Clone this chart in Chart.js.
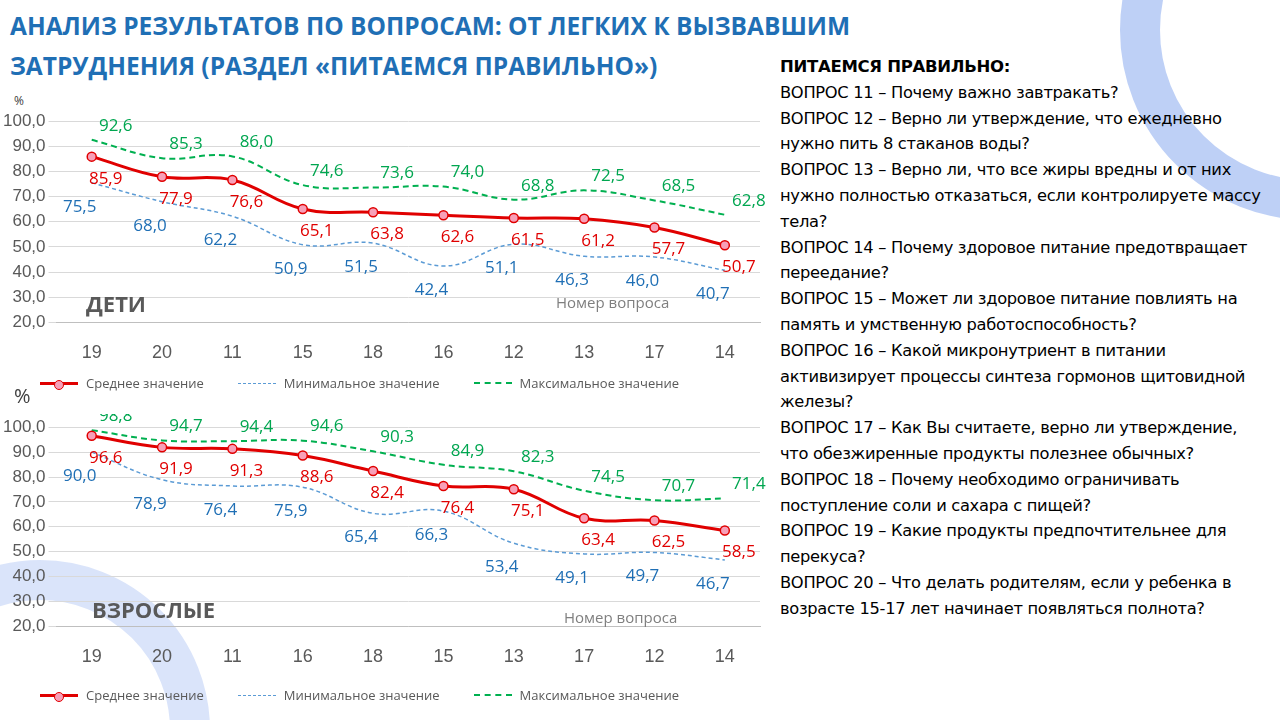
<!DOCTYPE html>
<html><head><meta charset="utf-8">
<script src="https://cdn.jsdelivr.net/npm/chart.js@4"></script>
<style>
body{margin:0;width:1280px;height:720px;overflow:hidden;background:#fff;font-family:"Open Sans",Arial,sans-serif;position:relative}
#title{position:absolute;left:10px;top:6px;color:#1f6fb5;font-weight:bold;font-size:24.5px;line-height:40px}
#notes{position:absolute;left:780px;top:54px;width:485px;font-size:16.3px;line-height:25.8px;color:#000;font-family:"DejaVu Sans",Arial;letter-spacing:-0.3px}
#notes b{font-size:16.5px}
.box{position:absolute;left:0;width:770px}
.tag{position:absolute;font-weight:bold;font-size:22px;color:#595959}
.ax{position:absolute;font-size:15px;color:#7f7f7f}
.pc{position:absolute;font-size:12px;color:#404040}
.arc{position:absolute;border-radius:50%;border:40px solid rgba(70,120,230,0.35)}
.leg{position:absolute;left:40px;width:700px;display:flex;gap:34px;font-size:13px;color:#595959;align-items:center}
.leg span{display:inline-flex;align-items:center;gap:8px}
.ln{display:inline-block;width:38px;height:0;position:relative}
.dot{position:absolute;left:14px;top:-5px;width:8px;height:8px;border-radius:50%;background:#f7a0b8;border:1.5px solid #e00000}
</style></head><body>
<div class="arc" style="left:1120px;top:-160px;width:300px;height:300px"></div>
<div class="arc" style="left:-130px;top:560px;width:260px;height:260px;border-color:rgba(70,120,230,0.2)"></div>
<div id="title">АНАЛИЗ РЕЗУЛЬТАТОВ ПО ВОПРОСАМ: ОТ ЛЕГКИХ К ВЫЗВАВШИМ<br>ЗАТРУДНЕНИЯ (РАЗДЕЛ «ПИТАЕМСЯ ПРАВИЛЬНО»)</div>
<div id="notes"><b>ПИТАЕМСЯ ПРАВИЛЬНО:</b><br>
ВОПРОС 11 – Почему важно завтракать?<br>
ВОПРОС 12 – Верно ли утверждение, что ежедневно нужно пить 8 стаканов воды?<br>
ВОПРОС 13 – Верно ли, что все жиры вредны и от них нужно полностью отказаться, если контролируете массу тела?<br>
ВОПРОС 14 – Почему здоровое питание предотвращает переедание?<br>
ВОПРОС 15 – Может ли здоровое питание повлиять на память и умственную работоспособность?<br>
ВОПРОС 16 – Какой микронутриент в питании активизирует процессы синтеза гормонов щитовидной железы?<br>
ВОПРОС 17 – Как Вы считаете, верно ли утверждение, что обезжиренные продукты полезнее обычных?<br>
ВОПРОС 18 – Почему необходимо ограничивать поступление соли и сахара с пищей?<br>
ВОПРОС 19 – Какие продукты предпочтительнее для перекуса?<br>
ВОПРОС 20 – Что делать родителям, если у ребенка в возрасте 15-17 лет начинает появляться полнота?</div>

<div class="pc" style="left:14px;top:92px">%</div>
<div class="box" style="top:108px;height:268px"><canvas id="c1"></canvas></div>
<div class="tag" style="left:86px;top:288px">ДЕТИ</div>
<div class="ax" style="left:556px;top:292px">Номер вопроса</div>
<div class="leg" style="top:374px">
  <span><i class="ln" style="border-top:3px solid #e00000"><i class="dot"></i></i>Среднее значение</span>
  <span><i class="ln" style="border-top:1.5px dashed #5b9bd5"></i>Минимальное значение</span>
  <span><i class="ln" style="border-top:2px dashed #00b050"></i>Максимальное значение</span>
</div>

<div class="pc" style="left:14px;top:382px;font-size:20px">%</div>
<div class="box" style="top:414px;height:266px"><canvas id="c2"></canvas></div>
<div class="tag" style="left:92px;top:594px">ВЗРОСЛЫЕ</div>
<div class="ax" style="left:564px;top:607px">Номер вопроса</div>
<div class="leg" style="top:686px">
  <span><i class="ln" style="border-top:3px solid #e00000"><i class="dot"></i></i>Среднее значение</span>
  <span><i class="ln" style="border-top:1.5px dashed #5b9bd5"></i>Минимальное значение</span>
  <span><i class="ln" style="border-top:2px dashed #00b050"></i>Максимальное значение</span>
</div>

<script>
const kidsQuestions = ["19","20","11","15","18","16","12","13","17","14"];
const kidsAvg = [85.9,77.9,76.6,65.1,63.8,62.6,61.5,61.2,57.7,50.7];
const kidsMin = [75.5,68.0,62.2,50.9,51.5,42.4,51.1,46.3,46.0,40.7];
const kidsMax = [92.6,85.3,86.0,74.6,73.6,74.0,68.8,72.5,68.5,62.8];

const adultQuestions = ["19","20","11","16","18","15","13","17","12","14"];
const adultAvg = [96.6,91.9,91.3,88.6,82.4,76.4,75.1,63.4,62.5,58.5];
const adultMin = [90.0,78.9,76.4,75.9,65.4,66.3,53.4,49.1,49.7,46.7];
const adultMax = [98.8,94.7,94.4,94.6,90.3,84.9,82.3,74.5,70.7,71.4];

const yTicks = [20,30,40,50,60,70,80,90,100];

// label offsets per series: [dx, dy]
const labelOffsets = [[14, 22], [-12, 24], [24, -14]];
const labelColors = ["#e00000", "#1f6fb5", "#00a650"];

const labelPlugin = {
  id: "valueLabels",
  afterDatasetsDraw(chart) {
    const ctx = chart.ctx;
    ctx.save();
    ctx.font = "17px 'Open Sans', Arial";
    ctx.textAlign = "center";
    ctx.textBaseline = "middle";
    chart.data.datasets.forEach((ds, i) => {
      chart.getDatasetMeta(i).data.forEach((pt, j) => {
        const [dx, dy] = labelOffsets[i];
        ctx.fillStyle = labelColors[i];
        ctx.fillText(ds.data[j].toFixed(1).replace(".", ","), pt.x + dx, pt.y + dy);
      });
    });
    ctx.restore();
  }
};

function makeChart(id, labels, avg, min, max) {
  new Chart(document.getElementById(id), {
    type: "line",
    data: {
      labels: labels,
      datasets: [
        { label: "Среднее значение", data: avg, borderColor: "#e00000", borderWidth: 3,
          pointBackgroundColor: "#f7a0b8", pointBorderColor: "#e00000", pointRadius: 4.5, pointBorderWidth: 1.5,
          tension: 0.4 },
        { label: "Минимальное значение", data: min, borderColor: "#5b9bd5", borderWidth: 1.5,
          borderDash: [4, 3], pointRadius: 0, tension: 0.4 },
        { label: "Максимальное значение", data: max, borderColor: "#00b050", borderWidth: 2,
          borderDash: [6, 4], pointRadius: 0, tension: 0.4 }
      ]
    },
    options: {
      responsive: true, maintainAspectRatio: false, animation: false,
      layout: { padding: { right: 10, top: 12 } },
      scales: {
        y: { min: 20, max: 100, afterBuildTicks: ax => { ax.ticks = yTicks.map(v => ({ value: v })); },
          ticks: { color: "#595959", font: { size: 17 }, callback: v => v.toFixed(1).replace(".", ",") },
          grid: { color: "#d9d9d9" }, border: { display: false } },
        x: { offset: true, ticks: { color: "#595959", font: { size: 18 }, padding: 12 },
          grid: { display: false }, border: { color: "#bfbfbf" } }
      },
      plugins: { legend: { display: false }, tooltip: { enabled: false } }
    },
    plugins: [labelPlugin]
  });
}

makeChart("c1", kidsQuestions, kidsAvg, kidsMin, kidsMax);
makeChart("c2", adultQuestions, adultAvg, adultMin, adultMax);
</script>
</body></html>
